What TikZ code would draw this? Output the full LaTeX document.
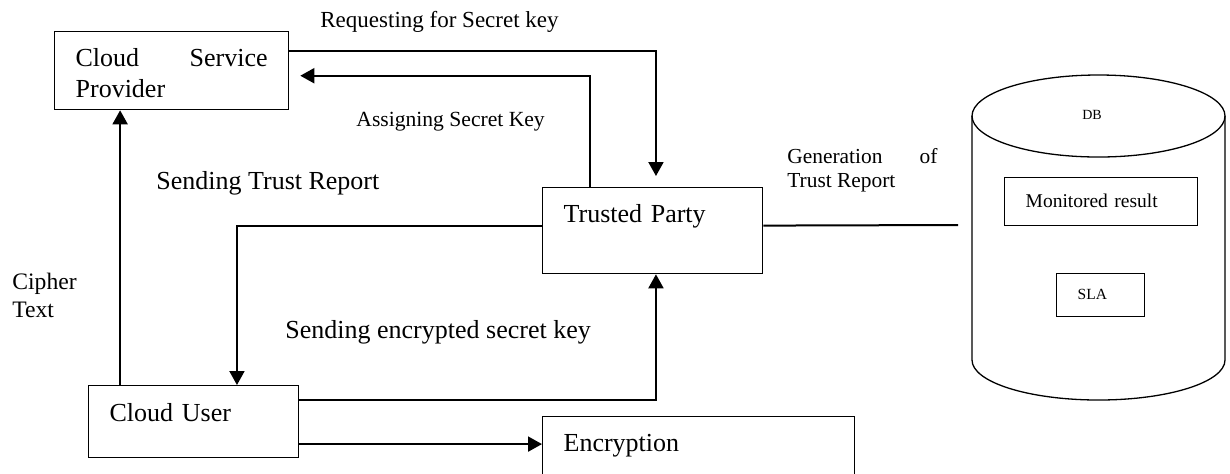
\documentclass[tikz,border=0pt]{standalone}
\usepackage{fontspec}
\setmainfont{Liberation Serif}
\usepackage{tikz}
\usetikzlibrary{calc, arrows.meta, positioning}

\newcommand{\fsz}[2]{\fontsize{#1}{#2}\selectfont}

\begin{document}
\begin{tikzpicture}[x = 0.5pt, y = -0.5pt,
        box/.style = {draw, line width = 0.65pt, rectangle, anchor = north west,
                      inner xsep = 10.5pt, inner ysep = 0pt, align = left},
        arr/.style = {line width = 1pt, -{Triangle[length = 7pt, width = 7.5pt]}},
        wire/.style = {line width = 1pt},
        lbl/.style = {anchor = base west, inner sep = 0pt, align = left},
        big/.style = {font = \fsz{13pt}{15.5pt}}]%{{{
                \useasboundingbox (0, 0) rectangle (1230, 473);
                \clip (0, 0) rectangle (1230, 473);

                % boxes
                \node (CSP) [box, big, text width = 96pt, text height = 17.5pt, text depth = 21.5pt, align = justify]
                        at (54, 31) { Cloud Service\linebreak Provider };
                \node (TP) [box, big, text width = 89pt, text height = 17.5pt, text depth = 25.5pt]
                        at (542, 187) { Trusted Party };
                \node (CU) [box, big, text width = 84pt, text height = 18pt, text depth = 18pt]
                        at (88, 385) { Cloud User };
                \node (ENC) [box, big, text width = 135pt, text height = 17.5pt, text depth = 40pt]
                        at (542, 416) { Encryption };

                % database
                \draw [line width = 0.65pt] (972, 116) -- (972, 360)
                        arc [start angle = 180, end angle = 0, x radius = 126.5, y radius = 40]
                        -- (1225, 116);
                \draw [line width = 0.65pt] (1098.5, 116) ellipse [x radius = 126.5, y radius = 41];
                \node (DB) [font = \fsz{7pt}{8pt}] at (1092, 115) { DB };
                \node (MON) [box, font = \fsz{9.75pt}{11pt}, text width = 75.5pt, text height = 15pt, text depth = 9pt]
                        at (1004, 177) { Monitored result };
                \node (SLA) [box, font = \fsz{7.75pt}{9pt}, text width = 23pt, text height = 13pt, text depth = 8.5pt]
                        at (1056, 273) { SLA };
                \coordinate (DBin) at (958, 225);

                % labels
                \node (Lreq) [lbl, font = \fsz{11.5pt}{13pt}] at (320, 27) { Requesting for Secret key };
                \node (Lassign) [lbl, font = \fsz{10.8pt}{12pt}] at (356, 126) { Assigning Secret Key };
                \node (Lreport) [lbl, big] at (156, 189) { Sending Trust Report };
                \node (Lgen) [lbl, font = \fsz{10.7pt}{12pt}, text width = 75pt, align = justify]
                        at (787, 163) { Generation of\linebreak Trust Report };
                \node (Lcipher) [lbl, font = \fsz{11.8pt}{14pt}] at (12, 317) { Cipher\\Text };
                \node (Lkey) [lbl, big] at (285, 338) { Sending encrypted secret key };

                % connectors
                \draw [arr, shorten > = 5.5pt] ($(CSP.north east)!0.25!(CSP.south east)$)
                        -| ($(TP.north west)!0.515!(TP.north east)$);
                \draw [arr, shorten > = 5.5pt] ($(TP.north west)!0.218!(TP.north east)$)
                        |- ($(CSP.north east)!0.564!(CSP.south east)$);
                \draw [arr] ($(TP.north west)!0.442!(TP.south west)$)
                        -| ($(CU.north west)!0.705!(CU.north east)$);
                \draw [arr] ($(CU.north east)!0.208!(CU.south east)$)
                        -| ($(TP.south west)!0.515!(TP.south east)$);
                \draw [arr] ($(CU.north east)!0.806!(CU.south east)$) coordinate (cuout)
                        -- (cuout -| ENC.west);
                \draw [arr] ($(CU.north west)!0.152!(CU.north east)$) coordinate (cuup)
                        -- (cuup |- CSP.south);
                \draw [wire] ($(TP.north east)!0.442!(TP.south east)$) -- (DBin);
            \end{tikzpicture}%}}}
\end{document}
